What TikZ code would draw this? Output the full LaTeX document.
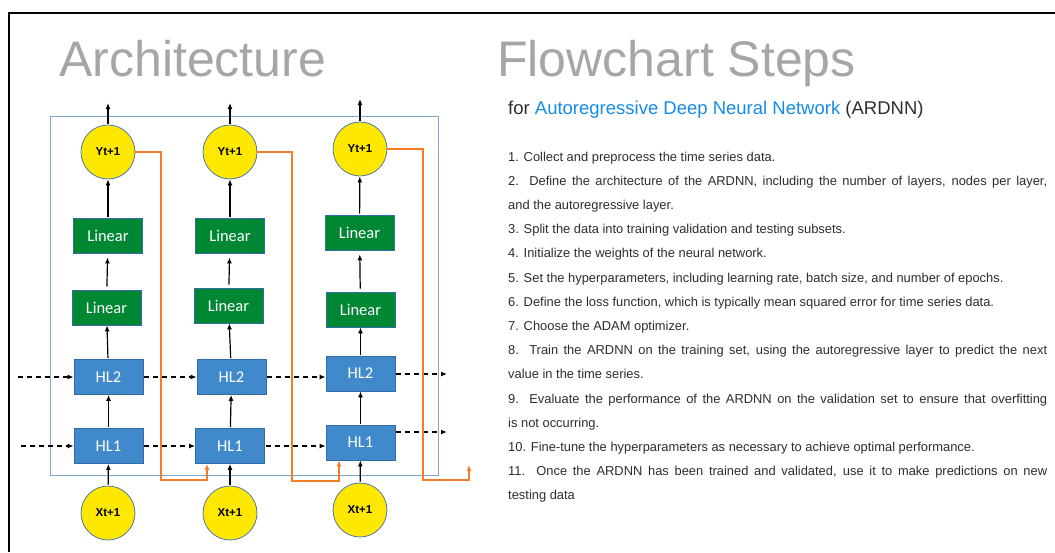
\documentclass[tikz,border=0pt]{standalone}
\usepackage{fontspec}
\setmainfont{Liberation Sans}
\newfontfamily\carl{Carlito}
\usetikzlibrary{arrows.meta}
\definecolor{titlegray}{RGB}{168,165,165}
\definecolor{framecol}{RGB}{127,166,206}
\definecolor{hlblue}{RGB}{64,138,204}
\definecolor{hlborder}{RGB}{52,108,168}
\definecolor{lgreen}{RGB}{0,135,52}
\definecolor{yel}{RGB}{255,232,0}
\definecolor{circborder}{RGB}{80,120,170}
\definecolor{orng}{RGB}{245,125,40}
\definecolor{linkblue}{RGB}{20,140,230}
\definecolor{txt}{RGB}{45,45,45}
\tikzset{
  hlbox/.style={rectangle, fill=hlblue, draw=hlborder, line width=0.8pt, minimum width=69pt, minimum height=35pt, inner sep=0pt, text=white, font=\carl\fontsize{16.5}{18}\selectfont},
  linbox/.style={hlbox, fill=lgreen},
  ycirc/.style={circle, fill=yel, draw=circborder, line width=0.8pt, minimum size=54pt, inner sep=0pt, font=\bfseries\fontsize{11.5}{13}\selectfont},
  uparrow/.style={-{Latex[length=6pt,width=5pt]}, line width=1.2pt, shorten <=1pt},
  dasharr/.style={uparrow, dash pattern=on 5pt off 4pt},
  orangearr/.style={draw=orng, line width=1.8pt, -{Latex[length=6pt,width=5pt]}},
  listline/.style={anchor=base west, inner sep=0pt, text=txt, font=\fontsize{12.9}{15}\selectfont},
  title/.style={anchor=base west, inner sep=0pt, text=titlegray, font=\fontsize{50}{56}\selectfont}
}
\begin{document}
\begin{tikzpicture}[x=1pt,y=-1pt]
\useasboundingbox (0,0) rectangle (1055,552);
% outer frame
\draw[line width=2pt] (1055,13) -- (9,13) -- (9,552);
% titles
\node[title] (tarch) at (59,76) {Architecture};
\node[title] (tflow) at (497,76) {Flowchart Steps};
\node[anchor=base west, inner sep=0pt, text=txt, font=\fontsize{18.5}{22}\selectfont] (sub) at (508,114)
  {for \textcolor{linkblue}{Autoregressive Deep Neural Network} (ARDNN)};
% blue frame
\draw[draw=framecol, line width=1pt] (50,116) rectangle (438,475);
% column 1
\node[ycirc] (y1) at (108,152) {Yt+1};
\node[linbox] (lb1) at (108,235.5) {Linear};
\node[linbox] (la1) at (106.5,307.5) {Linear};
\node[hlbox] (h21) at (108.5,377) {HL2};
\node[hlbox] (h11) at (108.5,446) {HL1};
\node[ycirc] (x1) at (108,513) {Xt+1};
% column 2
\node[ycirc] (y2) at (230,152) {Yt+1};
\node[linbox] (lb2) at (230,235.5) {Linear};
\node[linbox] (la2) at (228.5,305.5) {Linear};
\node[hlbox] (h22) at (231.5,377) {HL2};
\node[hlbox] (h12) at (230,446) {HL1};
\node[ycirc] (x2) at (230,513) {Xt+1};
% column 3
\node[ycirc] (y3) at (360,149) {Yt+1};
\node[linbox] (lb3) at (359.5,232.5) {Linear};
\node[linbox] (la3) at (360.5,309.5) {Linear};
\node[hlbox] (h23) at (360.5,373.5) {HL2};
\node[hlbox] (h13) at (360.5,442.5) {HL1};
\node[ycirc] (x3) at (360,510) {Xt+1};
% output coordinates
\coordinate (o1) at (108,103);
\coordinate (o2) at (230,103);
\coordinate (o3) at (360,99);
% vertical arrows
\foreach \i in {1,2,3}{
  \draw[uparrow] (x\i) -- (h1\i);
  \draw[uparrow] (h1\i) -- (h2\i);
  \draw[uparrow] (h2\i) -- (la\i);
  \draw[uparrow, shorten <=3pt, shorten >=4pt] (la\i) -- (lb\i);
  \draw[uparrow] (lb\i) -- (y\i);
  \draw[uparrow] (y\i) -- (o\i);
}
% dashed arrows HL2 row
\coordinate (d2in) at (17,377);
\coordinate (d2out) at (447,374);
\draw[dasharr] (d2in) -- (h21);
\draw[dasharr] (h21) -- (h22);
\draw[dasharr] (h22.east) -- (h22.east -| h23.west);
\draw[dasharr] (h23.east |- d2out) -- (d2out);
% dashed arrows HL1 row
\coordinate (d1in) at (20,446);
\coordinate (d1out) at (447,432);
\draw[dasharr] (d1in) -- (h11);
\draw[dasharr] (h11) -- (h12);
\draw[dasharr] (h12.east) -- (h12.east -| h13.west);
\draw[dasharr] (h13.east |- d1out) -- (d1out);
% orange feedback
\coordinate (r1a) at (161,480);
\coordinate (r1b) at (207,480);
\coordinate (r2a) at (292,481);
\coordinate (r2b) at (339,481);
\coordinate (r3a) at (423,480);
\coordinate (r3b) at (469,480);
\coordinate (r3c) at (469,465);
\draw[orangearr] (y1.east) -| (r1a) -- (r1b) -- (r1b |- h12.south);
\draw[orangearr] (y2.east) -| (r2a) -- (r2b) -- (r2b |- h13.south);
\draw[orangearr] (y3.east) -| (r3a) -- (r3b) -- (r3c);
% list
\node[listline] (l1) at (508,161) {1. Collect and preprocess the time series data.};
\node[listline] (l2) at (508,185.2) {\makebox[539pt][s]{2. Define the architecture of the ARDNN, including the number of layers, nodes per layer,}};
\node[listline] (l3) at (508,209.4) {and the autoregressive layer.};
\node[listline] (l4) at (508,233.6) {3. Split the data into training validation and testing subsets.};
\node[listline] (l5) at (508,257.8) {4. Initialize the weights of the neural network.};
\node[listline] (l6) at (508,282) {5. Set the hyperparameters, including learning rate, batch size, and number of epochs.};
\node[listline] (l7) at (508,306.2) {6. Define the loss function, which is typically mean squared error for time series data.};
\node[listline] (l8) at (508,330.4) {7. Choose the ADAM optimizer.};
\node[listline] (l9) at (508,354.6) {\makebox[539pt][s]{8. Train the ARDNN on the training set, using the autoregressive layer to predict the next}};
\node[listline] (l10) at (508,378.8) {value in the time series.};
\node[listline] (l11) at (508,403) {\makebox[539pt][s]{9. Evaluate the performance of the ARDNN on the validation set to ensure that overfitting}};
\node[listline] (l12) at (508,427.2) {is not occurring.};
\node[listline] (l13) at (508,451.4) {10. Fine-tune the hyperparameters as necessary to achieve optimal performance.};
\node[listline] (l14) at (508,475.6) {\makebox[539pt][s]{11. Once the ARDNN has been trained and validated, use it to make predictions on new}};
\node[listline] (l15) at (508,499.8) {testing data};
\end{tikzpicture}
\end{document}
